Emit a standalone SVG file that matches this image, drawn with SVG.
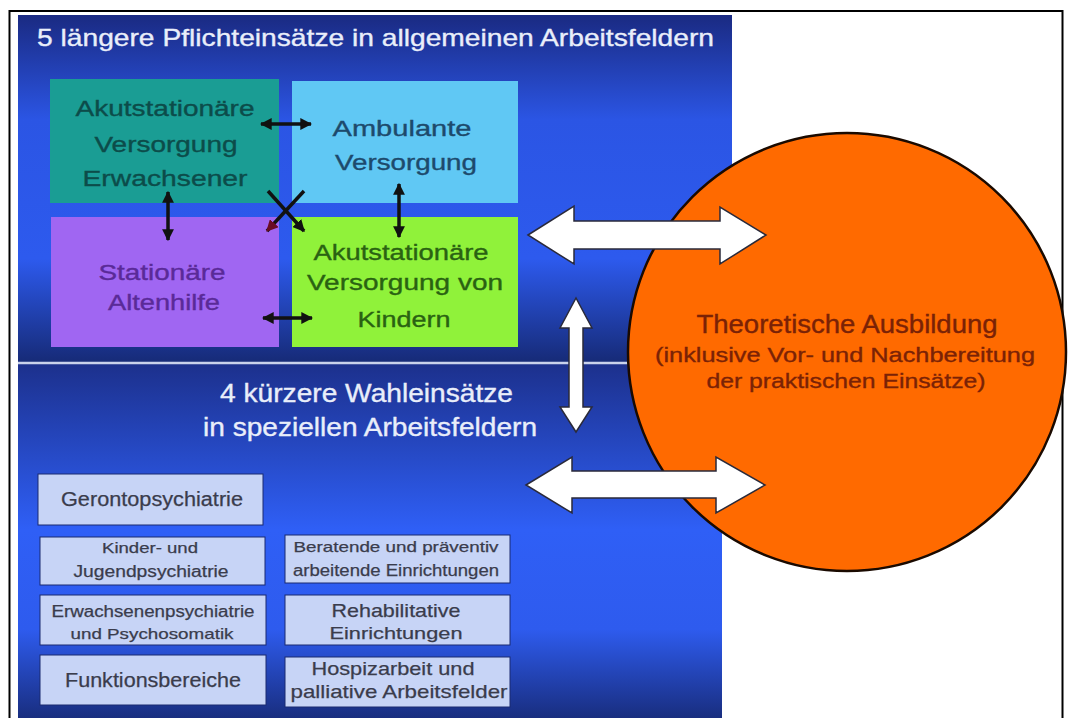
<svg xmlns="http://www.w3.org/2000/svg" width="1069" height="718" viewBox="0 0 1069 718">
<style>
text{font-family:"Liberation Sans",Arial,sans-serif;text-anchor:middle;stroke-width:0.35px}
.ttl{fill:#e9eefa;stroke:#e9eefa;font-size:24px}
.big{font-size:22px}
.sm{fill:#3a3c4c;stroke:#3a3c4c;stroke-width:0.25px}
.small-box{fill:#c7d4f6;stroke:#1a2a70;stroke-width:1}
.conn{stroke:#111;stroke-width:3.5;fill:none}
.wa{fill:#ffffff;stroke:#2a2a3a;stroke-width:1.5;stroke-linejoin:miter}
.t1{fill:#0c4c4a;stroke:#0c4c4a}
.t2{fill:#1d4a6c;stroke:#1d4a6c}
.t3{fill:#5a2a98;stroke:#5a2a98}
.t4{fill:#2a6212;stroke:#2a6212}
.t5{fill:#7a2206;stroke:#7a2206}
</style>
<defs>
<linearGradient id="gTop" x1="0" y1="0" x2="0" y2="1">
<stop offset="0" stop-color="#1a2a82"/>
<stop offset="0.3" stop-color="#2b55e4"/>
<stop offset="0.7" stop-color="#2d5aee"/>
<stop offset="1" stop-color="#162a76"/>
</linearGradient>
<linearGradient id="gBot" x1="0" y1="0" x2="0" y2="1">
<stop offset="0" stop-color="#1c308c"/>
<stop offset="0.45" stop-color="#2f5ff6"/>
<stop offset="0.72" stop-color="#2e5bee"/>
<stop offset="1" stop-color="#15266c"/>
</linearGradient>
<marker id="ah" viewBox="0 0 10 10" refX="9" refY="5" markerWidth="3.4" markerHeight="3.4" orient="auto-start-reverse">
<path d="M0,0 L10,5 L0,10 z" fill="#111"/>
</marker>
<marker id="ahr" viewBox="0 0 10 10" refX="9" refY="5" markerWidth="3.4" markerHeight="3.4" orient="auto-start-reverse">
<path d="M0,0 L10,5 L0,10 z" fill="#6a0c24"/>
</marker>
</defs>
<rect width="1069" height="718" fill="#ffffff"/>
<rect x="9.5" y="11" width="1053" height="720" fill="none" stroke="#000" stroke-width="2"/>

<g id="panel-top">
<rect x="18" y="15" width="714" height="348" fill="url(#gTop)"/>
<text class="ttl" x="375.5" y="46" textLength="677" lengthAdjust="spacingAndGlyphs">5 längere Pflichteinsätze in allgemeinen Arbeitsfeldern</text>
</g>
<g id="panel-bottom">
<rect x="18" y="363" width="704" height="370" fill="url(#gBot)"/>
<line x1="18" y1="363" x2="640" y2="363" stroke="#c9d2ec" stroke-width="2.5"/>
<text class="ttl" style="font-size:25px" x="366.5" y="402" textLength="293" lengthAdjust="spacingAndGlyphs">4 kürzere Wahleinsätze</text>
<text class="ttl" style="font-size:25px" x="370" y="436" textLength="334" lengthAdjust="spacingAndGlyphs">in speziellen Arbeitsfeldern</text>
</g>

<g id="node-akut-erw">
<rect x="50" y="79" width="229" height="124" fill="#1a9d94"/>
<text class="big t1" x="165" y="116" textLength="179" lengthAdjust="spacingAndGlyphs">Akutstationäre</text>
<text class="big t1" x="166" y="152" textLength="143" lengthAdjust="spacingAndGlyphs">Versorgung</text>
<text class="big t1" x="165" y="186" textLength="165" lengthAdjust="spacingAndGlyphs">Erwachsener</text>
</g>
<g id="node-ambulant">
<rect x="292" y="81" width="226" height="122" fill="#60c8f4"/>
<text class="big t2" x="402" y="136" textLength="139" lengthAdjust="spacingAndGlyphs">Ambulante</text>
<text class="big t2" x="406" y="170" textLength="142" lengthAdjust="spacingAndGlyphs">Versorgung</text>
</g>
<g id="node-alten">
<rect x="51" y="217" width="228" height="130" fill="#a066f2"/>
<text class="big t3" x="162" y="280" textLength="127" lengthAdjust="spacingAndGlyphs">Stationäre</text>
<text class="big t3" x="164" y="310" textLength="112" lengthAdjust="spacingAndGlyphs">Altenhilfe</text>
</g>
<g id="node-akut-kind">
<rect x="292" y="217" width="226" height="130" fill="#90f23a"/>
<text class="big t4" x="401" y="260" textLength="175" lengthAdjust="spacingAndGlyphs">Akutstationäre</text>
<text class="big t4" x="405" y="290" textLength="196" lengthAdjust="spacingAndGlyphs">Versorgung von</text>
<text class="big t4" x="404" y="327" textLength="93" lengthAdjust="spacingAndGlyphs">Kindern</text>
</g>

<g id="node-geronto">
<rect class="small-box" x="38" y="474" width="225" height="51"/>
<text class="sm" style="font-size:20px" x="152" y="506" textLength="182" lengthAdjust="spacingAndGlyphs">Gerontopsychiatrie</text>
</g>
<g id="node-kjp">
<rect class="small-box" x="40" y="537" width="225" height="48"/>
<text class="sm" style="font-size:15px" x="150" y="553" textLength="96" lengthAdjust="spacingAndGlyphs">Kinder- und</text>
<text class="sm" style="font-size:16px" x="151" y="577" textLength="155" lengthAdjust="spacingAndGlyphs">Jugendpsychiatrie</text>
</g>
<g id="node-erw-psych">
<rect class="small-box" x="40" y="595" width="226" height="50"/>
<text class="sm" style="font-size:16px" x="153" y="617" textLength="203" lengthAdjust="spacingAndGlyphs">Erwachsenenpsychiatrie</text>
<text class="sm" style="font-size:15px" x="152" y="639" textLength="163" lengthAdjust="spacingAndGlyphs">und Psychosomatik</text>
</g>
<g id="node-funktion">
<rect class="small-box" x="40" y="655" width="226" height="50"/>
<text class="sm" style="font-size:20px" x="153" y="687" textLength="176" lengthAdjust="spacingAndGlyphs">Funktionsbereiche</text>
</g>
<g id="node-beratend">
<rect class="small-box" x="285" y="535" width="225" height="48"/>
<text class="sm" style="font-size:15px" x="396" y="552" textLength="205" lengthAdjust="spacingAndGlyphs">Beratende und präventiv</text>
<text class="sm" style="font-size:16px" x="396" y="576" textLength="206" lengthAdjust="spacingAndGlyphs">arbeitende Einrichtungen</text>
</g>
<g id="node-reha">
<rect class="small-box" x="285" y="595" width="225" height="50"/>
<text class="sm" style="font-size:19px" x="396" y="617" textLength="129" lengthAdjust="spacingAndGlyphs">Rehabilitative</text>
<text class="sm" style="font-size:17px" x="396" y="639" textLength="133" lengthAdjust="spacingAndGlyphs">Einrichtungen</text>
</g>
<g id="node-hospiz">
<rect class="small-box" x="285" y="657" width="225" height="50"/>
<text class="sm" style="font-size:19px" x="393" y="675" textLength="163" lengthAdjust="spacingAndGlyphs">Hospizarbeit und</text>
<text class="sm" style="font-size:19px" x="399" y="698" textLength="217" lengthAdjust="spacingAndGlyphs">palliative Arbeitsfelder</text>
</g>

<g id="node-theorie">
<circle cx="847" cy="352" r="219" fill="#ff6a00" stroke="#1a0a00" stroke-width="2.5"/>
<text class="t5" style="font-size:25px" x="847" y="333" textLength="301" lengthAdjust="spacingAndGlyphs">Theoretische Ausbildung</text>
<text class="t5" style="font-size:21px" x="845" y="362" textLength="380" lengthAdjust="spacingAndGlyphs">(inklusive Vor- und Nachbereitung</text>
<text class="t5" style="font-size:21px" x="846" y="388" textLength="279" lengthAdjust="spacingAndGlyphs">der praktischen Einsätze)</text>
</g>

<g id="connectors">
<line class="conn" x1="261" y1="124" x2="311" y2="124" marker-start="url(#ah)" marker-end="url(#ah)"/>
<line class="conn" x1="168" y1="192" x2="168" y2="240" marker-start="url(#ah)" marker-end="url(#ah)"/>
<line class="conn" x1="399" y1="184" x2="399" y2="237" marker-start="url(#ah)" marker-end="url(#ah)"/>
<line class="conn" x1="263" y1="318" x2="312" y2="318" marker-start="url(#ah)" marker-end="url(#ah)"/>
<line class="conn" x1="268" y1="191" x2="304" y2="231" marker-end="url(#ah)"/>
<line class="conn" x1="304" y1="191" x2="267" y2="231" marker-end="url(#ahr)"/>
<path class="wa" d="M528,235 L574,206 L574,221 L720,221 L720,207 L766,235 L720,264 L720,249 L574,249 L574,264 Z"/>
<path class="wa" d="M576,298 L592,328 L583,328 L583,407 L592,407 L576,432 L560,407 L569,407 L569,328 L560,328 Z"/>
<path class="wa" d="M526,485 L572,457 L572,471 L716,471 L716,457 L765,485 L716,513 L716,498 L572,498 L572,513 Z"/>
</g>
</svg>
